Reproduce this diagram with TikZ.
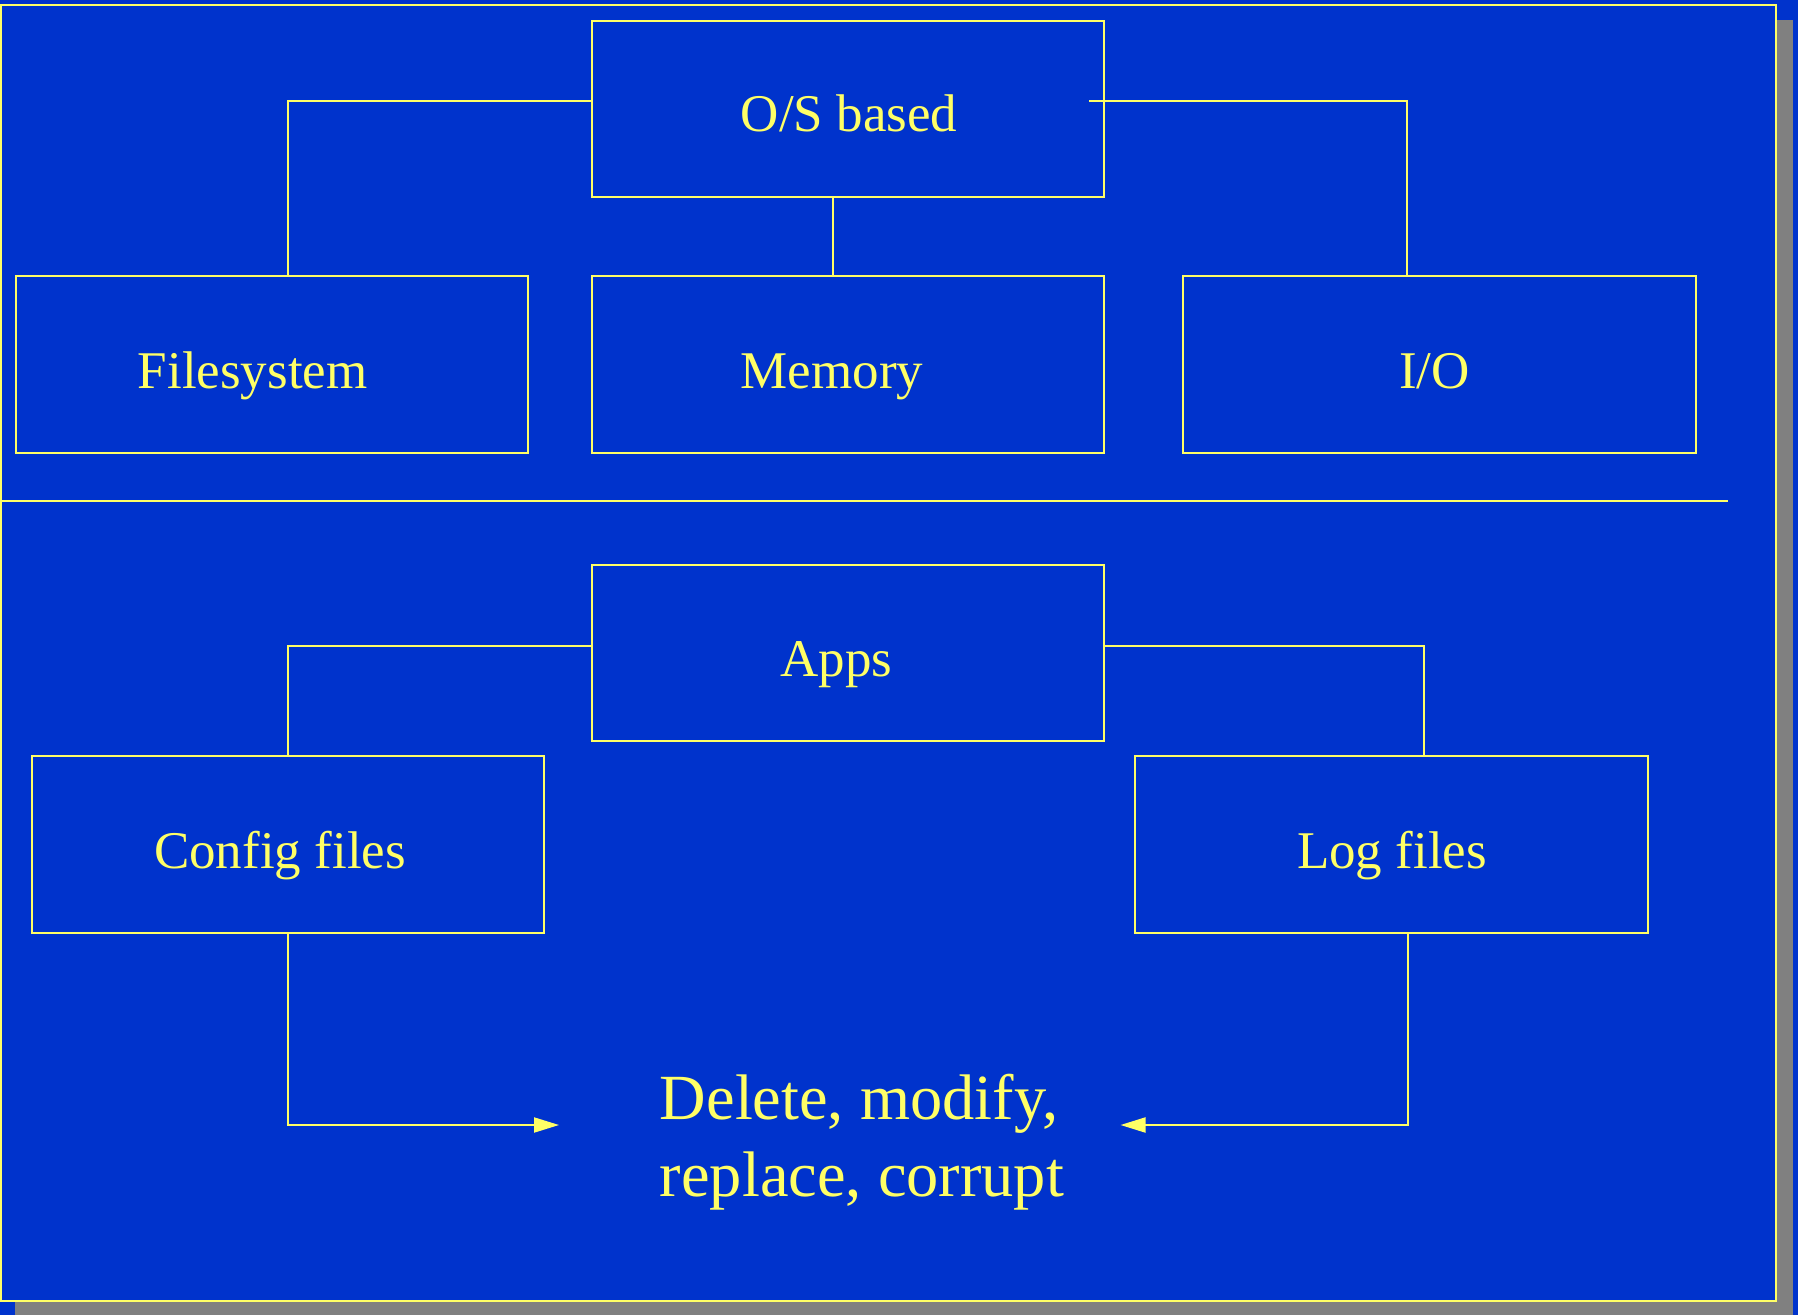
\documentclass[tikz,border=0pt]{standalone}
\usepackage{fontspec}
\setmainfont{Liberation Serif}
\usetikzlibrary{arrows.meta}
\definecolor{bgblue}{HTML}{0033CC}
\definecolor{ylw}{HTML}{FFFF66}
\definecolor{shd}{HTML}{808080}
\begin{document}
\begin{tikzpicture}[x=0.5pt,y=-0.5pt,
  box/.style={draw=ylw,line width=1pt,rectangle,minimum width=256.3pt,minimum height=88.3pt,inner sep=0pt},
  lbl/.style={text=ylw,inner sep=0pt,anchor=base,font=\fontsize{26.5}{32}\selectfont},
  conn/.style={draw=ylw,line width=1pt},
  arr/.style={conn,-{Triangle[length=12.5pt,width=7.5pt]}}]
\useasboundingbox (0,0) rectangle (1798,1315);
\fill[bgblue] (0,0) rectangle (1798,1315);
\fill[shd] (15,20) rectangle (1793,1315);
\filldraw[fill=bgblue,draw=ylw,line width=1pt] (1,5) rectangle (1776,1301);
% separator
\draw[conn] (1,501) -- (1728,501);
% boxes
\node[box] (os) at (848,108.9) {};
\node[box] (fs) at (271.8,364.7) {};
\node[box] (mem) at (848,364.7) {};
\node[box] (io) at (1439.7,364.7) {};
\node[box] (apps) at (848,653) {};
\node[box] (cfg) at (287.8,844.5) {};
\node[box] (log) at (1391.5,844.5) {};
% labels
\node[lbl] (tos) at (849,131.7) {O/S based};
\node[lbl] (tfs) at (252.7,388.3) {Filesystem};
\node[lbl] (tmem) at (832,388.3) {Memory};
\node[lbl] (tio) at (1434.5,388.3) {I/O};
\node[lbl] (tapps) at (836.5,676.5) {Apps};
\node[lbl] (tcfg) at (280,868.3) {Config files};
\node[lbl] (tlog) at (1392,868.3) {Log files};
\node[text=ylw,inner sep=0pt,anchor=base west,align=left,font=\fontsize{32.2}{38.5}\selectfont] (act) at (659.5,1196) {Delete, modify,\\replace, corrupt};
% connectors
\draw[conn] ([yshift=3.95pt]os.west) -| ([xshift=8pt]fs.north);
\draw[conn] ([xshift=-8pt,yshift=3.95pt]os.east) -| ([xshift=-16.3pt]io.north);
\draw[conn] ([xshift=-7.75pt]os.south) -- ([xshift=-7.75pt]mem.north);
\draw[conn] ([yshift=3.7pt]apps.west) -| (cfg.north);
\draw[conn] ([yshift=3.7pt]apps.east) -| ([xshift=16.25pt]log.north);
\coordinate (tipL) at (559,1125);
\coordinate (tipR) at (1120.5,1125);
\draw[arr] (cfg.south) |- (tipL);
\draw[arr] ([xshift=8.25pt]log.south) |- (tipR);
\end{tikzpicture}
\end{document}
